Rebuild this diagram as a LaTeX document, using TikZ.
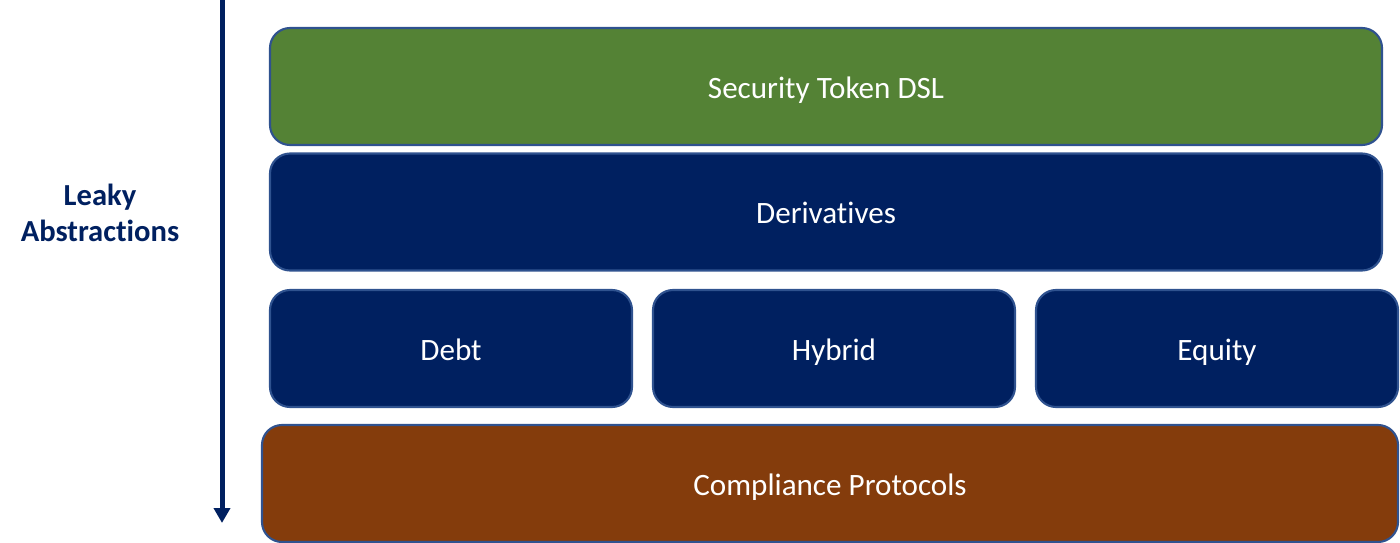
\documentclass[tikz,border=0pt]{standalone}
\usepackage{fontspec}
\setmainfont{Carlito}[Ligatures=NoCommon]
\usetikzlibrary{arrows.meta}
\definecolor{navy}{HTML}{002060}
\definecolor{leafgreen}{HTML}{548235}
\definecolor{rust}{HTML}{843C0C}
\definecolor{rim}{HTML}{2F528F}

\begin{document}
\begin{tikzpicture}
\useasboundingbox (0,0) rectangle (14,-5.43);
\begin{scope}[every node/.style={rectangle,rounded corners=0.2cm,draw=rim,line width=0.6pt,
              text=white,font=\fontsize{8.85}{10}\selectfont,minimum height=1.17cm,
              text height=1.7ex,text depth=0.3ex}]
    \node[fill=leafgreen,minimum width=11.12cm] (dsl) at (8.26,-0.865) {Security Token DSL};
    \node[fill=navy,minimum width=11.12cm] (deriv) at (8.26,-2.12) {Derivatives};
    \node[fill=navy,minimum width=3.62cm] (debt) at (4.51,-3.485) {Debt};
    \node[fill=navy,minimum width=3.62cm] (hybrid) at (8.34,-3.485) {Hybrid};
    \node[fill=navy,minimum width=3.62cm] (equity) at (12.17,-3.485) {Equity};
    \node[fill=rust,minimum width=11.36cm] (comp) at (8.30,-4.835) {Compliance Protocols};
\end{scope}
\node[align=center,text=navy,font=\fontsize{8.7}{10.3}\selectfont\bfseries] (leaky) at (1.0,-2.13) {Leaky\\Abstractions};
\coordinate (top) at (2.22,0);
\coordinate (bottom) at (2.22,-5.23);
\begin{scope}[>={Triangle[width=0.16cm,length=0.15cm]}]
    \draw [->,draw=navy,line width=0.05cm] (top) -- (bottom);
\end{scope}
\end{tikzpicture}
\end{document}
